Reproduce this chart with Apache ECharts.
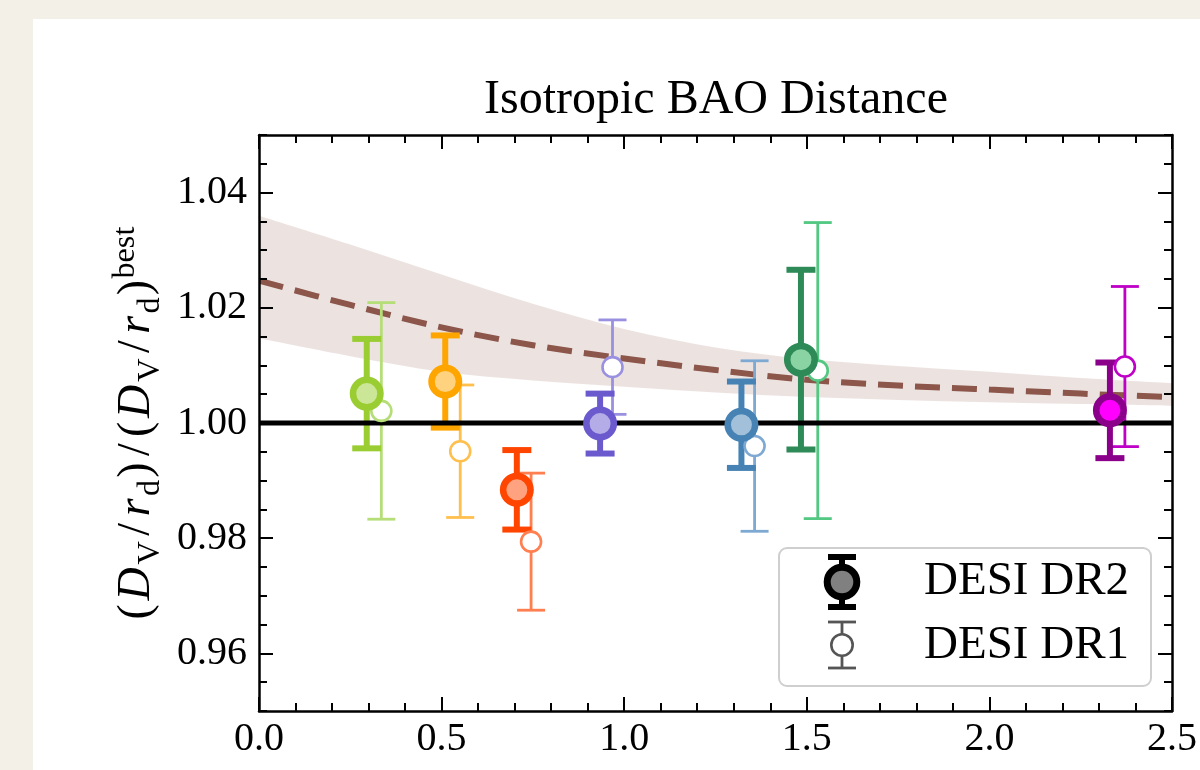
<!DOCTYPE html>
<html>
<head>
<meta charset="utf-8">
<title>Isotropic BAO Distance</title>
<script src="https://cdn.jsdelivr.net/npm/echarts@6/dist/echarts.min.js"></script>
<style>
  html, body { margin: 0; padding: 0; background: #f3f0e8; }
  #panel { position: absolute; left: 33px; top: 19px; width: 1167px; height: 751px; background: #ffffff; }
  #chart { position: absolute; left: 0; top: 0; width: 1200px; height: 770px; }
</style>
</head>
<body>
<div id="panel"></div>
<div id="chart"></div>
<script>
// ---------------- data ----------------
// DESI DR2 isotropic BAO measurements, relative to the best-fit model
const zDR2     = [0.295, 0.510, 0.706, 0.934, 1.321, 1.484, 2.330];
const ratioDR2 = [1.0051, 1.0072, 0.9884, 0.9999, 0.9997, 1.0110, 1.0022];
const errDR2   = [0.0095, 0.0080, 0.0069, 0.0052, 0.0075, 0.0156, 0.0083];

// DESI DR1 measurements (drawn slightly offset in z)
const zDR1     = [0.335, 0.551, 0.745, 0.968, 1.357, 1.530, 2.371];
const ratioDR1 = [1.0021, 0.9951, 0.9794, 1.0097, 0.9960, 1.0091, 1.0098];
const errDR1   = [0.0188, 0.0115, 0.0119, 0.0082, 0.0148, 0.0257, 0.0139];

// alternative-model prediction: mean and 68% band
const zModel     = [0, 0.25, 0.5, 0.75, 1.0, 1.25, 1.5, 1.75, 2.0, 2.25, 2.5];
const modelMean  = [1.0247, 1.0205, 1.0166, 1.0135, 1.0112, 1.0092, 1.0075, 1.0065, 1.0058, 1.0051, 1.0045];
const modelUpper = [1.0360, 1.0310, 1.0258, 1.0207, 1.0163, 1.0131, 1.0111, 1.0099, 1.0089, 1.0078, 1.0069];
const modelLower = [1.0147, 1.0116, 1.0089, 1.0074, 1.0063, 1.0053, 1.0045, 1.0040, 1.0036, 1.0033, 1.0030];

// reference value and axis ranges / ticks
const refRatio = 1.0;
const xRange = [0, 2.5];
const yRange = [0.95, 1.05];
const yMajorTicks = [0.96, 0.98, 1.00, 1.02, 1.04];

// tracer colours
const edgeDR2 = ['#9ACD32', '#FFA500', '#FF4500', '#6A5ACD', '#4682B4', '#2E8B57', '#8B008B'];
const fillDR2 = ['#CCE698', '#FFD27F', '#FFA27F', '#B4ACE6', '#A2C0D9', '#8AD4A4', '#FF00FF'];
const colDR1  = ['#B5DD78', '#FFBF4D', '#FF7F50', '#9A90E0', '#7EA9D2', '#52C882', '#BF00C6'];

// ---------------- styling ----------------
const SERIF = '"Liberation Serif", "Times New Roman", serif';
const BROWN = '#8c564b';

const chart = echarts.init(document.getElementById('chart'), null, { renderer: 'canvas' });

// Catmull-Rom spline through pixel points, as SVG path commands
function splinePath(pts, startCmd) {
  let d = startCmd + pts[0][0].toFixed(2) + ' ' + pts[0][1].toFixed(2);
  for (let i = 0; i < pts.length - 1; i++) {
    const p0 = pts[Math.max(i - 1, 0)], p1 = pts[i], p2 = pts[i + 1], p3 = pts[Math.min(i + 2, pts.length - 1)];
    const c1 = [p1[0] + (p2[0] - p0[0]) / 6, p1[1] + (p2[1] - p0[1]) / 6];
    const c2 = [p2[0] - (p3[0] - p1[0]) / 6, p2[1] - (p3[1] - p1[1]) / 6];
    d += ' C' + c1[0].toFixed(2) + ' ' + c1[1].toFixed(2) + ' ' + c2[0].toFixed(2) + ' ' + c2[1].toFixed(2) +
         ' ' + p2[0].toFixed(2) + ' ' + p2[1].toFixed(2);
  }
  return d;
}

function bandItem(params, api) {
  if (params.dataIndex !== 0) return null;
  const up = zModel.map((z, i) => api.coord([z, modelUpper[i]]));
  const lo = zModel.map((z, i) => api.coord([z, modelLower[i]])).reverse();
  const d = splinePath(up, 'M') + ' ' + splinePath(lo, 'L') + ' Z';
  return { type: 'path', shape: { pathData: d }, style: { fill: 'rgba(140,86,75,0.17)', stroke: null } };
}

function meanItem(params, api) {
  if (params.dataIndex !== 0) return null;
  const pts = zModel.map((z, i) => api.coord([z, modelMean[i]]));
  return {
    type: 'path', shape: { pathData: splinePath(pts, 'M') },
    style: { fill: null, stroke: BROWN, lineWidth: 6, lineDash: [25, 12] }
  };
}

function errorBars(colors, capWidth, lineWidth) {
  return function (params, api) {
    const x = api.value(0), y = api.value(1), e = api.value(2);
    const hi = api.coord([x, y + e]);
    const lo = api.coord([x, y - e]);
    const h = capWidth / 2;
    const st = { stroke: colors[params.dataIndex], lineWidth: lineWidth, lineCap: 'butt' };
    return {
      type: 'group',
      children: [
        { type: 'line', shape: { x1: hi[0], y1: hi[1], x2: lo[0], y2: lo[1] }, style: st },
        { type: 'line', shape: { x1: hi[0] - h, y1: hi[1], x2: hi[0] + h, y2: hi[1] }, style: st },
        { type: 'line', shape: { x1: lo[0] - h, y1: lo[1], x2: lo[0] + h, y2: lo[1] }, style: st }
      ]
    };
  };
}

const tickStyle = { color: '#000', width: 2 };
function xAxisDef(position, showLabel) {
  return {
    type: 'value', position: position, min: xRange[0], max: xRange[1], interval: 0.5, z: 10,
    axisLine: { show: true, onZero: false, lineStyle: { color: '#000', width: 2.5 } },
    axisTick: { show: true, inside: true, length: 14, lineStyle: tickStyle },
    minorTick: { show: true, splitNumber: 5, length: 8, lineStyle: tickStyle },
    splitLine: { show: false }, minorSplitLine: { show: false },
    axisLabel: {
      show: showLabel, margin: 8, color: '#000', fontFamily: SERIF, fontSize: 40,
      formatter: v => v.toFixed(1)
    }
  };
}
function yMajorDef(position, showLabel) {
  return {
    type: 'value', position: position, min: yRange[0], max: yRange[1], z: 10,
    axisLine: { show: true, onZero: false, lineStyle: { color: '#000', width: 2.5 } },
    axisTick: { show: true, inside: true, length: 14, lineStyle: tickStyle, customValues: yMajorTicks },
    splitLine: { show: false },
    axisLabel: {
      show: showLabel, margin: 12, color: '#000', fontFamily: SERIF, fontSize: 40,
      customValues: yMajorTicks, formatter: v => v.toFixed(2)
    }
  };
}
function yMinorDef(position) {
  return {
    type: 'value', position: position, min: yRange[0], max: yRange[1], interval: 0.005, z: 10,
    axisLine: { show: false, onZero: false },
    axisTick: { show: true, inside: true, length: 8, lineStyle: tickStyle },
    splitLine: { show: false },
    axisLabel: { show: false }
  };
}

// ---- y-axis label typeset piece by piece: (D_V/r_d)/(D_V/r_d)^best ----
const LABEL_SIZE = 46;
// [text, fontStyle, relative size, baseline shift (em, +down), advance (em)]
const ratioGroup = [
  ['(', 'normal', 1, 0, 0.389],
  ['D', 'italic', 1, 0, 0.828],
  ['V', 'normal', 0.7, 0.2, 0.75],
  ['/', 'normal', 1, 0, 0.5],
  ['r', 'italic', 1, 0, 0.451],
  ['d', 'normal', 0.7, 0.2, 0.556],
  [')', 'normal', 1, 0, 0.389]
];
const labelPieces = ratioGroup.concat([['/', 'normal', 1, 0, 0.5]], ratioGroup,
  [['best', 'normal', 0.7, -0.33, 1.783]]);
const MIDDLE_OFFSET = 0.3375; // canvas 'middle' sits this far above the alphabetic baseline (em)

function buildYLabel() {
  const S = LABEL_SIZE;
  const widths = labelPieces.map(p => p[4] * p[2] * S);
  const total = widths.reduce((a, b) => a + b, 0);
  let cursor = -total / 2;
  const children = [];
  labelPieces.forEach((p, i) => {
    const size = p[2] * S;
    const single = p[0].length === 1;
    children.push({
      type: 'text',
      x: single ? cursor + widths[i] / 2 : cursor,
      y: p[3] * S - MIDDLE_OFFSET * size,
      style: {
        text: p[0],
        font: p[1] + ' ' + size.toFixed(1) + 'px ' + SERIF,
        fill: '#000',
        textAlign: single ? 'center' : 'left', align: single ? 'center' : 'left',
        textVerticalAlign: 'middle', verticalAlign: 'middle'
      }
    });
    cursor += widths[i];
  });
  return { type: 'group', x: 152, y: 421, rotation: Math.PI / 2, silent: true, children: children };
}

function textAt(x, baseline, str, size) {
  return {
    type: 'text', x: x, y: baseline - MIDDLE_OFFSET * size, silent: true,
    style: {
      text: str, font: size + 'px ' + SERIF, fill: '#000',
      textAlign: 'left', align: 'left', textVerticalAlign: 'middle', verticalAlign: 'middle'
    }
  };
}

function legendIcon(cx, cy, barHalf, capW, lw, r, ringW, stroke, fill) {
  const st = { stroke: stroke, lineWidth: lw };
  return [
    { type: 'line', shape: { x1: cx, y1: cy - barHalf, x2: cx, y2: cy + barHalf }, style: st, silent: true },
    { type: 'line', shape: { x1: cx - capW / 2, y1: cy - barHalf, x2: cx + capW / 2, y2: cy - barHalf }, style: st, silent: true },
    { type: 'line', shape: { x1: cx - capW / 2, y1: cy + barHalf, x2: cx + capW / 2, y2: cy + barHalf }, style: st, silent: true },
    { type: 'circle', shape: { cx: cx, cy: cy, r: r }, style: { fill: fill, stroke: stroke, lineWidth: ringW }, silent: true }
  ];
}

const titleSize = 48;
const graphics = [
  {
    type: 'text', x: 716, y: 116.7 - MIDDLE_OFFSET * titleSize, silent: true,
    style: {
      text: 'Isotropic BAO Distance', font: titleSize + 'px ' + SERIF, fill: '#000',
      textAlign: 'center', align: 'center', textVerticalAlign: 'middle', verticalAlign: 'middle'
    }
  },
  buildYLabel(),
  {
    type: 'rect', silent: true, z: 100,
    shape: { x: 779, y: 548, width: 372, height: 138, r: 8 },
    style: { fill: 'rgba(255,255,255,0.85)', stroke: '#cfcfcf', lineWidth: 2 }
  }
].concat(
  legendIcon(842, 582, 25, 28, 6, 14.8, 7, '#000000', '#808080').map(e => Object.assign(e, { z: 101 })),
  legendIcon(842, 645, 23, 28, 2.8, 10.7, 2.6, '#555555', '#ffffff').map(e => Object.assign(e, { z: 101 })),
  [Object.assign(textAt(924, 598, 'DESI DR2', 47), { z: 101 }),
   Object.assign(textAt(924, 662, 'DESI DR1', 47), { z: 101 })]
);

const option = {
  animation: false,
  backgroundColor: 'transparent',
  grid: { left: 259, right: 27, top: 135, bottom: 59, containLabel: false },
  xAxis: [xAxisDef('bottom', true), xAxisDef('top', false)],
  yAxis: [yMajorDef('left', true), yMajorDef('right', false), yMinorDef('left'), yMinorDef('right')],
  graphic: graphics,
  series: [
    // model 68% band
    {
      name: 'model band', type: 'custom', z: 1, silent: true, clip: true,
      renderItem: bandItem, encode: { x: 0, y: [1, 2] },
      data: zModel.map((z, i) => [z, modelLower[i], modelUpper[i]])
    },
    // model mean (dashed)
    {
      name: 'model', type: 'custom', z: 2, silent: true, clip: true,
      renderItem: meanItem, encode: { x: 0, y: 1 },
      data: zModel.map((z, i) => [z, modelMean[i]])
    },
    // error bars
    {
      name: 'DESI DR1 errors', type: 'custom', z: 3, silent: true,
      renderItem: errorBars(colDR1, 28, 2.8),
      encode: { x: 0, y: 1 },
      data: zDR1.map((z, i) => [z, ratioDR1[i], errDR1[i]])
    },
    {
      name: 'DESI DR2 errors', type: 'custom', z: 4, silent: true,
      renderItem: errorBars(edgeDR2, 29, 6),
      encode: { x: 0, y: 1 },
      data: zDR2.map((z, i) => [z, ratioDR2[i], errDR2[i]])
    },
    // reference line at the best-fit value
    {
      name: 'reference', type: 'line', symbol: 'none', z: 5, silent: true,
      data: [[xRange[0], refRatio], [xRange[1], refRatio]],
      lineStyle: { color: '#000', width: 5 }
    },
    // markers
    {
      name: 'DESI DR1', type: 'scatter', z: 6, silent: true,
      symbol: 'circle', symbolSize: 20,
      data: zDR1.map((z, i) => ({
        value: [z, ratioDR1[i]],
        itemStyle: { color: '#ffffff', borderColor: colDR1[i], borderWidth: 2.6, opacity: 1 }
      }))
    },
    {
      name: 'DESI DR2', type: 'scatter', z: 7, silent: true,
      symbol: 'circle', symbolSize: 27.5,
      data: zDR2.map((z, i) => ({
        value: [z, ratioDR2[i]],
        itemStyle: { color: fillDR2[i], borderColor: edgeDR2[i], borderWidth: 6.5, opacity: 1 }
      }))
    }
  ]
};

chart.setOption(option);
</script>
</body>
</html>
